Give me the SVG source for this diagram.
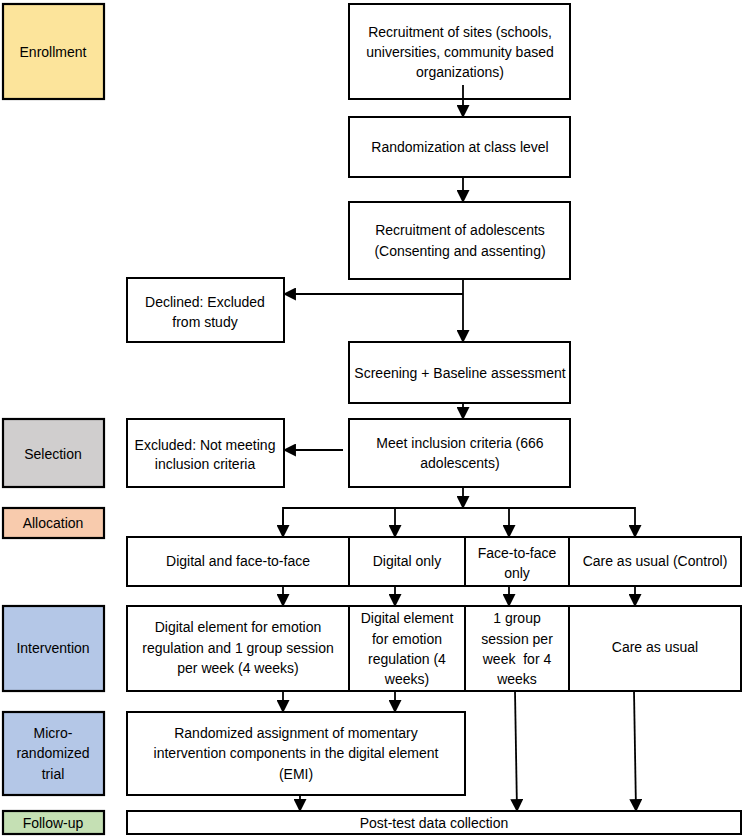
<svg xmlns="http://www.w3.org/2000/svg" width="744" height="837" viewBox="0 0 744 837">
<style>
.b{fill:#fff;stroke:#000;stroke-width:2}
.lab{stroke:#000;stroke-width:2.2}
text{font-family:"Liberation Sans",Arial,sans-serif;font-size:14px;fill:#000;text-anchor:middle}
.c{fill:none;stroke:#000;stroke-width:1.8}
</style>
<defs>
<marker id="ah" markerUnits="userSpaceOnUse" markerWidth="13" markerHeight="13" viewBox="0 0 12 12" refX="11" refY="6" orient="auto">
<path d="M0,0 L12,6 L0,12 Z" fill="#000"/>
</marker>
</defs>
<rect width="744" height="837" fill="#fff"/>

<g id="enrollment"><rect class="lab" x="3" y="4" width="101" height="95" fill="#FCE49B"/><text x="53" y="57">Enrollment</text></g>
<g id="selection"><rect class="lab" x="3" y="419" width="101" height="68" fill="#D0CECE"/><text x="53" y="459">Selection</text></g>
<g id="allocation"><rect class="lab" x="3" y="508" width="101" height="30" fill="#F8CBAD"/><text x="53" y="528">Allocation</text></g>
<g id="intervention"><rect class="lab" x="3" y="606" width="101" height="85" fill="#B4C7E7"/><text x="53" y="653">Intervention</text></g>
<g id="mrt"><rect class="lab" x="3" y="712" width="101" height="83" fill="#B4C7E7"/><text x="53" y="738">Micro-</text><text x="53" y="758">randomized</text><text x="53" y="779">trial</text></g>
<g id="followup"><rect class="lab" x="3" y="811" width="101" height="23" fill="#C5E0B4"/><text x="53" y="828">Follow-up</text></g>

<g id="sites"><rect class="b" x="349" y="4" width="221" height="95"/><text x="460" y="37">Recruitment of sites (schools,</text><text x="460" y="57">universities, community based</text><text x="460" y="77">organizations)</text></g>
<g id="randomization"><rect class="b" x="349" y="117" width="221" height="60"/><text x="460" y="152">Randomization at class level</text></g>
<g id="adolescents"><rect class="b" x="349" y="202" width="221" height="77"/><text x="460" y="235">Recruitment of adolescents</text><text x="460" y="256">(Consenting and assenting)</text></g>
<g id="declined"><rect class="b" x="127" y="278" width="157" height="64"/><text x="205" y="307">Declined: Excluded</text><text x="205" y="327">from study</text></g>
<g id="screening"><rect class="b" x="349" y="342" width="221" height="61"/><text x="460" y="378">Screening + Baseline assessment</text></g>
<g id="meet"><rect class="b" x="349" y="419" width="221" height="68"/><text x="460" y="448">Meet inclusion criteria (666</text><text x="460" y="468">adolescents)</text></g>
<g id="excluded"><rect class="b" x="127" y="419" width="157" height="68"/><text x="205" y="450">Excluded: Not meeting</text><text x="205" y="469">inclusion criteria</text></g>

<g id="grp-df"><rect class="b" x="127" y="537" width="222" height="49"/><text x="238" y="566">Digital and face-to-face</text></g>
<g id="grp-d"><rect class="b" x="349" y="537" width="116" height="49"/><text x="407" y="566">Digital only</text></g>
<g id="grp-f"><rect class="b" x="465" y="537" width="104" height="49"/><text x="517" y="558">Face-to-face</text><text x="517" y="578">only</text></g>
<g id="grp-c"><rect class="b" x="569" y="537" width="172" height="49"/><text x="655" y="566">Care as usual (Control)</text></g>

<g id="int-df"><rect class="b" x="127" y="606" width="222" height="85"/><text x="238" y="632">Digital element for emotion</text><text x="238" y="653">regulation and 1 group session</text><text x="238" y="673">per week (4 weeks)</text></g>
<g id="int-d"><rect class="b" x="349" y="606" width="116" height="85"/><text x="407" y="623">Digital element</text><text x="407" y="644">for emotion</text><text x="407" y="664">regulation (4</text><text x="407" y="684">weeks)</text></g>
<g id="int-f"><rect class="b" x="465" y="606" width="104" height="85"/><text x="517" y="623">1 group</text><text x="517" y="644">session per</text><text x="517" y="664" xml:space="preserve">week  for 4</text><text x="517" y="684">weeks</text></g>
<g id="int-c"><rect class="b" x="569" y="606" width="172" height="85"/><text x="655" y="652">Care as usual</text></g>

<g id="ema"><rect class="b" x="127" y="712" width="338" height="83"/><text x="296" y="738">Randomized assignment of momentary</text><text x="296" y="758">intervention components in the digital element</text><text x="296" y="779">(EMI)</text></g>
<g id="posttest"><rect class="b" x="127" y="811" width="614" height="23"/><text x="434" y="828">Post-test data collection</text></g>

<g id="connectors">
<line class="c" x1="463" y1="85" x2="463" y2="117" marker-end="url(#ah)"/>
<line class="c" x1="463" y1="177" x2="463" y2="202" marker-end="url(#ah)"/>
<line class="c" x1="463" y1="279" x2="463" y2="342" marker-end="url(#ah)"/>
<line class="c" x1="463" y1="294" x2="284" y2="294" marker-end="url(#ah)"/>
<line class="c" x1="463" y1="403" x2="463" y2="419" marker-end="url(#ah)"/>
<line class="c" x1="343" y1="450" x2="284" y2="450" marker-end="url(#ah)"/>
<line class="c" x1="463" y1="487" x2="463" y2="508" marker-end="url(#ah)"/>
<polyline class="c" points="283,537 283,508 635,508 635,537" marker-end="url(#ah)"/>
<line class="c" x1="283" y1="510" x2="283" y2="537" marker-end="url(#ah)"/>
<line class="c" x1="395" y1="508" x2="395" y2="537" marker-end="url(#ah)"/>
<line class="c" x1="509" y1="508" x2="509" y2="537" marker-end="url(#ah)"/>
<line class="c" x1="283" y1="586" x2="283" y2="606" marker-end="url(#ah)"/>
<line class="c" x1="395" y1="586" x2="395" y2="606" marker-end="url(#ah)"/>
<line class="c" x1="509" y1="586" x2="509" y2="606" marker-end="url(#ah)"/>
<line class="c" x1="635" y1="586" x2="635" y2="606" marker-end="url(#ah)"/>
<line class="c" x1="283" y1="691" x2="283" y2="712" marker-end="url(#ah)"/>
<line class="c" x1="395" y1="691" x2="395" y2="712" marker-end="url(#ah)"/>
<line class="c" x1="300" y1="795" x2="300" y2="811" marker-end="url(#ah)"/>
<line class="c" x1="515" y1="691" x2="517" y2="811" marker-end="url(#ah)"/>
<line class="c" x1="634" y1="691" x2="636" y2="811" marker-end="url(#ah)"/>
</g>
</svg>
